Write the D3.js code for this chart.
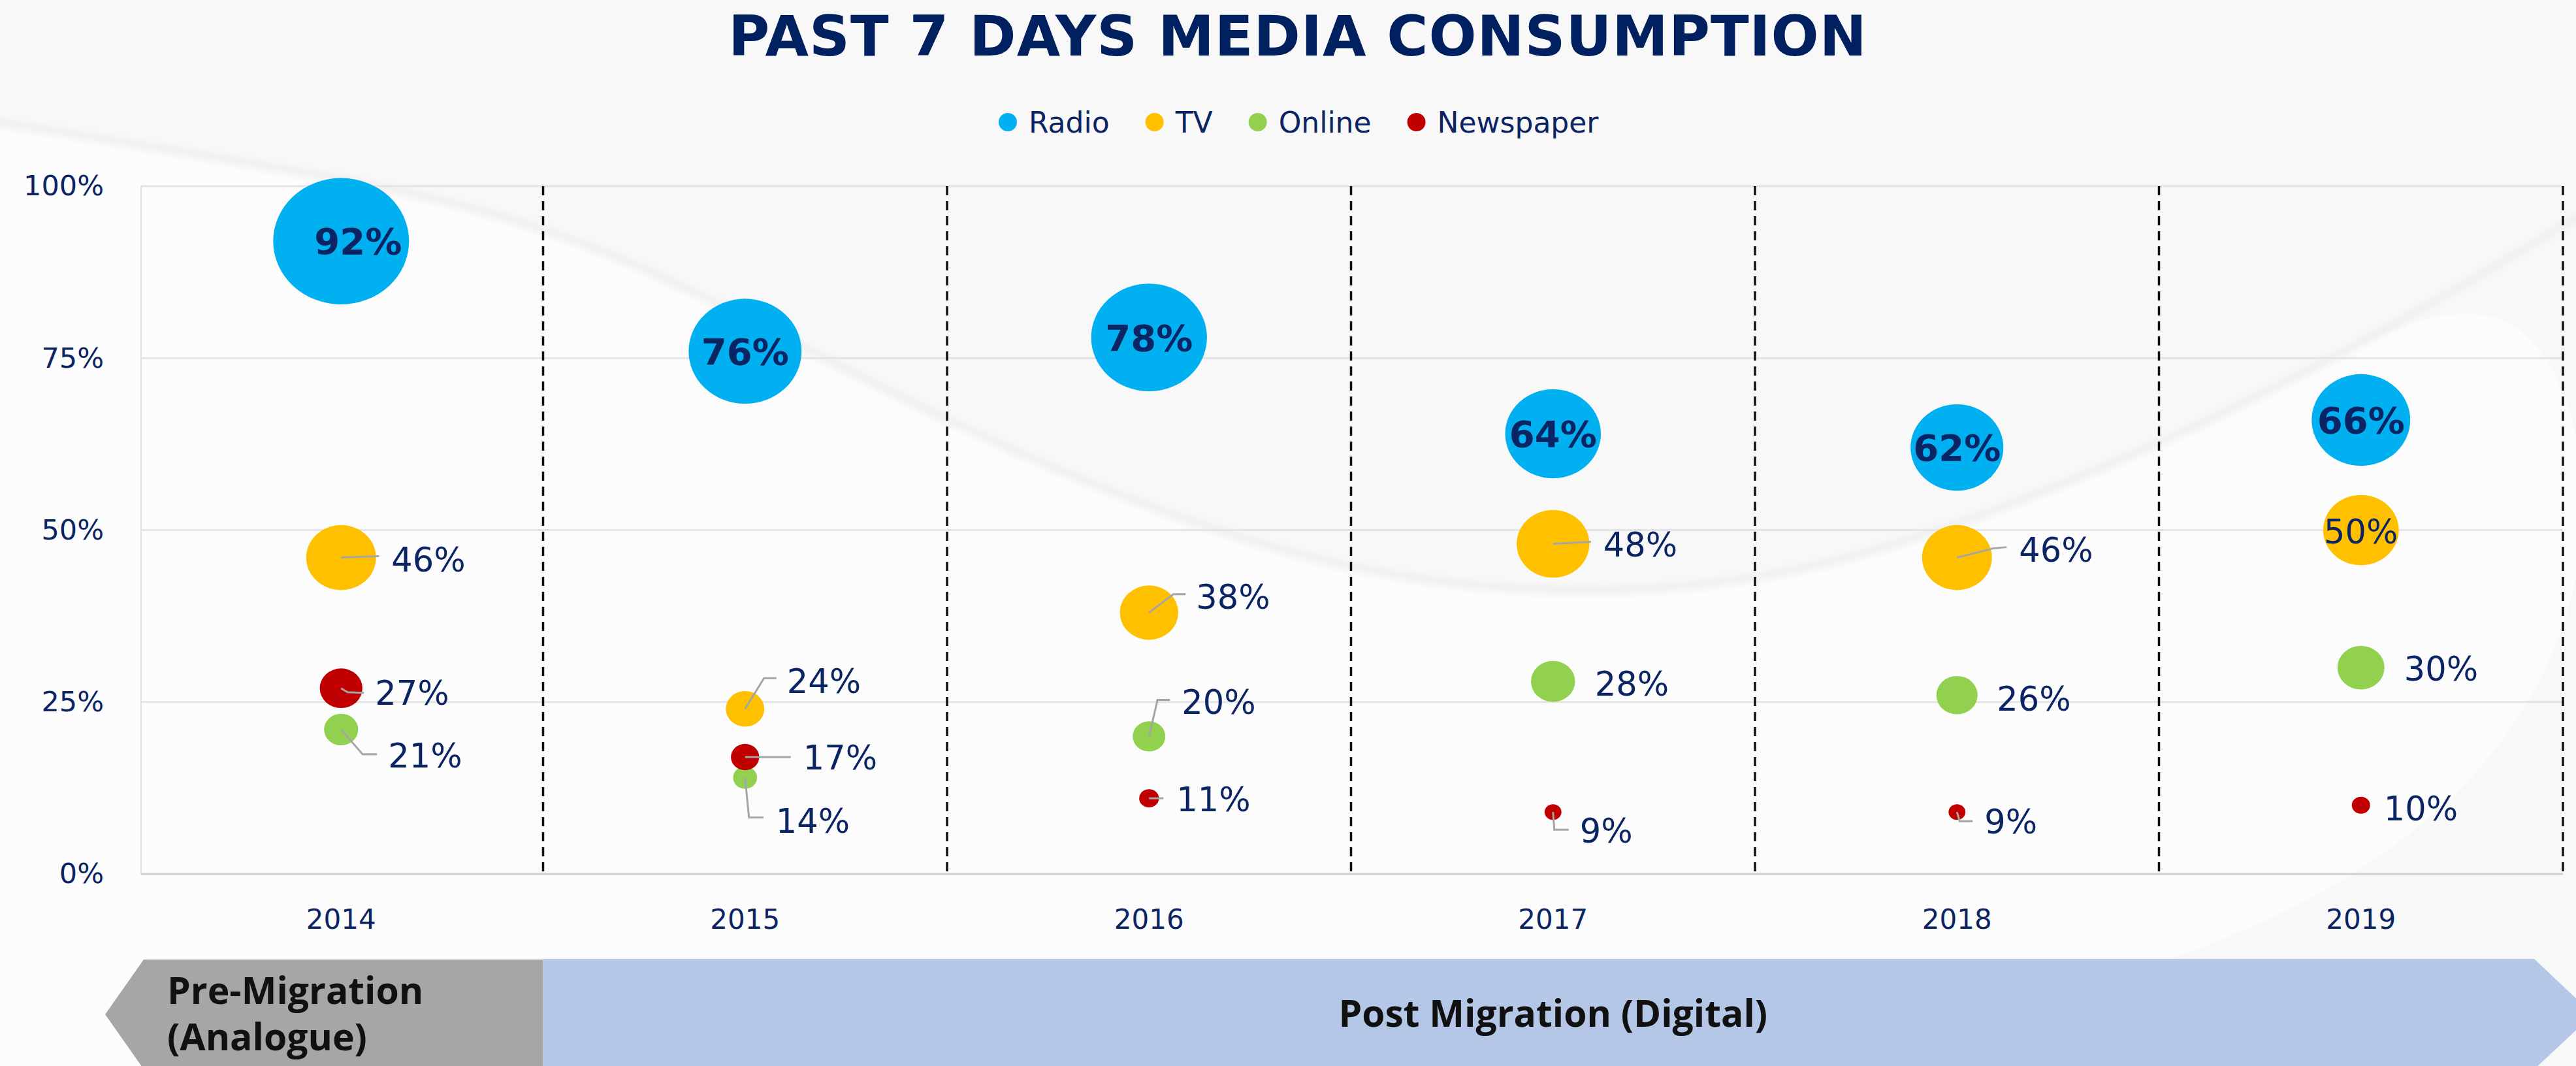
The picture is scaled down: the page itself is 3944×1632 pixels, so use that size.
<!DOCTYPE html>
<html>
<head>
<meta charset="utf-8">
<script src="https://cdn.jsdelivr.net/npm/d3@7"></script>
<style>
  html, body { margin: 0; padding: 0; background: #fff; }
  svg { display: block; }
</style>
</head>
<body>
<svg id="chart"></svg>
<script>
const title = 'PAST 7 DAYS MEDIA CONSUMPTION'
const years = ['2014', '2015', '2016', '2017', '2018', '2019']
const seriesNames = ['Radio', 'TV', 'Online', 'Newspaper']
const radio = [92, 76, 78, 64, 62, 66]
const tv = [46, 24, 38, 48, 46, 50]
const online = [21, 14, 20, 28, 26, 30]
const newspaper = [27, 17, 11, 9, 9, 10]
const yTicks = [0, 25, 50, 75, 100]
const phaseLabels = [['Pre-Migration', '(Analogue)'], ['Post Migration (Digital)']]

const colors = {Radio: '#00b0f0', TV: '#ffc000', Online: '#92d050', Newspaper: '#c00000'}
const navy = '#0b2463'

// data labels were placed by hand in the original, so keep the offsets (px from bubble centre)
// t = where the text starts, l = leader line points, mid = centred on the bubble
const labelLayout = {
	Radio: [
		{t: [26, 0], mid: true}, {t: [0, 0], mid: true}, {t: [0, 0], mid: true},
		{t: [0, 0], mid: true}, {t: [0, 0], mid: true}, {t: [0, 0], mid: true}
	],
	TV: [
		{t: [77, 3], l: [[0, 0], [58, -2]]},
		{t: [64, -43], l: [[0, 0], [29, -47], [48, -47]]},
		{t: [72, -24], l: [[0, 0], [37, -28], [56, -28]]},
		{t: [77, 1], l: [[0, 0], [58, -3]]},
		{t: [95, -12], l: [[0, 0], [55, -14], [76, -16]]},
		{t: [0, 2], mid: true}
	],
	Online: [
		{t: [72, 40], l: [[0, 0], [33, 38], [55, 38]]},
		{t: [47, 66], l: [[0, 0], [6, 61], [28, 61]]},
		{t: [50, -53], l: [[0, 0], [13, -56], [32, -56]]},
		{t: [64, 3]}, {t: [61, 5]}, {t: [66, 2]}
	],
	Newspaper: [
		{t: [52, 7], l: [[0, 0], [10, 6], [35, 7]]},
		{t: [89, 1], l: [[0, 0], [70, 0]]},
		{t: [42, 1], l: [[0, 0], [22, 0]]},
		{t: [41, 28], l: [[0, 0], [2, 27], [24, 27]]},
		{t: [42, 14], l: [[0, 0], [4, 14], [24, 14]]},
		{t: [35, 5]}
	]
}

function drawChart() {
	const width = 3944
	const height = 1632
	const plot = {left: 213, right: 3924, top: 285, bottom: 1338}

	const svg = d3.select('#chart')
		.attr('width', width)
		.attr('height', height)
		.style('font-family', '"DejaVu Sans", Verdana, sans-serif')

	const defs = svg.append('defs')
	defs.append('filter').attr('id', 'soft')
		.attr('x', '-10%').attr('y', '-50%').attr('width', '120%').attr('height', '200%')
		.append('feGaussianBlur').attr('stdDeviation', 6)

	// background with the faint swoosh
	svg.append('rect').attr('width', width).attr('height', height).attr('fill', '#f8f8f8')
	const swoosh = d3.line().curve(d3.curveBasis)
	const swooshPts = [[-50, 180], [450, 260], [900, 345], [1452, 660], [2000, 873], [2379, 913],
		[2688, 895], [3000, 811], [3500, 600], [4000, 300]]
	svg.append('path')
		.attr('d', swoosh(swooshPts.concat([[4000, 1700], [-50, 1700]])))
		.attr('fill', '#fcfcfc')
	svg.append('path')
		.attr('d', swoosh(swooshPts))
		.attr('fill', 'none')
		.attr('stroke', '#ececec')
		.attr('stroke-width', 9)
		.attr('filter', 'url(#soft)')

	const x = d3.scaleBand().domain(years).range([plot.left, plot.right])
	const cx = d => x(d) + x.bandwidth() / 2
	const y = d3.scaleLinear().domain([0, 100]).range([plot.bottom, plot.top])
	const r = d3.scaleLinear().domain([0, 92]).range([3, 104])

	// gridlines
	svg.append('g')
		.selectAll('line')
		.data(yTicks)
		.join('line')
			.attr('x1', plot.left + 3)
			.attr('x2', plot.right)
			.attr('y1', d => y(d))
			.attr('y2', d => y(d))
			.attr('stroke', d => d === 0 ? '#d0d0d0' : '#e4e4e4')
			.attr('stroke-width', 3)
	svg.append('line')
		.attr('x1', plot.left + 3).attr('x2', plot.left + 3)
		.attr('y1', plot.top).attr('y2', plot.bottom)
		.attr('stroke', '#e0e0e0').attr('stroke-width', 2)

	// y axis labels
	const yAxis = svg.append('g')
		.attr('transform', `translate(${plot.left - 6}, 0)`)
		.call(d3.axisLeft(y).tickValues(yTicks).tickFormat(d => d + '%').tickSize(0).tickPadding(48))
	yAxis.select('.domain').remove()
	yAxis.selectAll('text')
		.attr('fill', navy)
		.attr('font-size', 43)
		.attr('font-family', '"DejaVu Sans", sans-serif')

	// x axis labels
	const xAxis = svg.append('g')
		.attr('transform', `translate(0, ${plot.bottom})`)
		.call(d3.axisBottom(x).tickSize(0).tickPadding(54))
	xAxis.select('.domain').remove()
	xAxis.selectAll('text')
		.attr('fill', navy)
		.attr('font-size', 42)
		.attr('font-family', '"DejaVu Sans", sans-serif')

	// dashed year separators
	svg.append('g')
		.selectAll('line')
		.data(years)
		.join('line')
			.attr('x1', d => x(d) + x.bandwidth())
			.attr('x2', d => x(d) + x.bandwidth())
			.attr('y1', plot.top)
			.attr('y2', plot.bottom)
			.attr('stroke', '#111')
			.attr('stroke-width', 3.5)
			.attr('stroke-dasharray', '14,9')

	const seriesValues = [radio, tv, online, newspaper]
	const rows = seriesNames.map((name, i) => ({
		name,
		points: years.map((yr, j) => ({year: yr, value: seriesValues[i][j], layout: labelLayout[name][j]}))
	}))

	// bubbles
	const groups = svg.append('g')
		.selectAll('g')
		.data(rows)
		.join('g')
			.attr('fill', d => colors[d.name])
	groups.selectAll('ellipse')
		.data(d => d.points)
		.join('ellipse')
			.attr('cx', d => cx(d.year))
			.attr('cy', d => y(d.value))
			.attr('rx', d => r(d.value))
			.attr('ry', d => r(d.value) * 0.93)

	// leader lines
	const leaderLine = d3.line()
	const allPoints = rows.flatMap(row => row.points.map(p => ({...p, series: row.name})))
	svg.append('g')
		.selectAll('path')
		.data(allPoints.filter(d => d.layout.l))
		.join('path')
			.attr('d', d => leaderLine(d.layout.l.map(([dx, dy]) => [cx(d.year) + dx, y(d.value) + dy])))
			.attr('fill', 'none')
			.attr('stroke', '#a5a5a5')
			.attr('stroke-width', 3)

	// data labels
	svg.append('g')
		.selectAll('text')
		.data(allPoints)
		.join('text')
			.attr('x', d => cx(d.year) + d.layout.t[0])
			.attr('y', d => y(d.value) + d.layout.t[1])
			.attr('dy', '0.36em')
			.attr('text-anchor', d => d.layout.mid ? 'middle' : 'start')
			.attr('font-size', d => d.series === 'Radio' ? 56 : 51)
			.attr('font-weight', d => d.series === 'Radio' ? 700 : 400)
			.attr('fill', navy)
			.text(d => d.value + '%')

	// title
	svg.append('text')
		.attr('x', 1987)
		.attr('y', 85)
		.attr('text-anchor', 'middle')
		.attr('font-size', 86)
		.attr('font-weight', 700)
		.attr('letter-spacing', 1)
		.attr('fill', '#002060')
		.text(title)

	// legend
	const legend = svg.append('g').attr('transform', 'translate(0, 187)')
	let lx = 1543
	seriesNames.forEach(name => {
		legend.append('circle').attr('cx', lx).attr('r', 14).attr('fill', colors[name])
		const t = legend.append('text')
			.attr('x', lx + 32)
			.attr('dy', '0.36em')
			.attr('font-size', 44)
			.attr('fill', navy)
			.text(name)
		lx = lx + 32 + t.node().getComputedTextLength() + 69
	})

	// migration phase arrows along the bottom
	const split = x('2015')
	const top = 1469
	const tipY = 1553
	const bottom = 1637
	svg.append('path')
		.attr('d', d3.line()([[220, top], [split, top], [split, bottom], [220, bottom], [161, tipY]]) + 'Z')
		.attr('fill', '#a6a6a6')
	svg.append('path')
		.attr('d', d3.line()([[split, top - 1], [3880, top - 1], [3970, tipY], [3880, bottom], [split, bottom]]) + 'Z')
		.attr('fill', '#b4c7e7')

	const phaseText = svg.append('g')
		.attr('font-family', '"Open Sans", "Noto Sans", sans-serif')
		.attr('font-weight', 700)
		.attr('font-size', 57)
		.attr('fill', '#111')
	phaseText.append('text')
		.attr('x', 256)
		.attr('y', 1537)
		.text(phaseLabels[0][0])
	phaseText.append('text')
		.attr('x', 256)
		.attr('y', 1608)
		.text(phaseLabels[0][1])
	phaseText.append('text')
		.attr('x', cx('2017'))
		.attr('y', 1572)
		.attr('text-anchor', 'middle')
		.text(phaseLabels[1][0])
}

drawChart()
</script>
</body>
</html>
